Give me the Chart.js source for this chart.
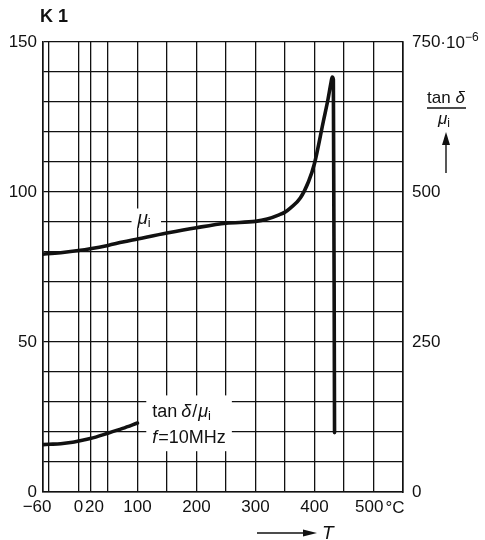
<!DOCTYPE html>
<html>
<head>
<meta charset="utf-8">
<script src="https://cdn.jsdelivr.net/npm/chart.js@4"></script>
<style>
  html, body { margin: 0; padding: 0; background: #fff; }
  #wrap { width: 485px; height: 540px; }
</style>
</head>
<body>
<div id="wrap"><canvas id="c" width="485" height="540"></canvas></div>
<script>
/* ── Data ────────────────────────────────────────── */
const xGrid    = [-60, -50, 0, 20, 50, 100, 150, 200, 250, 300, 350, 400, 450, 500, 550];
const xLabeled = [-60, 0, 20, 100, 200, 300, 400, 500];

// initial permeability mu_i vs temperature (left axis)
const muT   = [-60, -40, -20, 0, 20, 50, 75, 100, 150, 200, 250, 300, 320, 340, 350, 360, 376, 390, 400, 415, 423, 428, 430, 432, 434];
const muVal = [79.3, 79.6, 80, 80.5, 81.1, 82.2, 83.3, 84.3, 86.3, 88.1, 89.6, 90.2, 91, 92.4, 93.3, 94.8, 98, 103.5, 109.5, 123.5, 131, 136.5, 138.3, 137.5, 19.8];

// loss factor tan(delta)/mu_i in 1e-6 (right axis)
const tanT   = [-60, -50, -30, -10, 0, 20, 50, 75, 100];
const tanVal = [79, 79.5, 80.5, 83, 85, 89, 98, 106, 115];

const FONT = "'Liberation Sans', Arial, sans-serif";
const INK = "#111";

function pts(xs, ys) { return xs.map((x, i) => ({ x: x, y: ys[i] })); }

/* ── Text pieces helper ──────────────────────────── */
function drawRun(ctx, x, y, parts, size) {
  let cx = x;
  parts.forEach(p => {
    const s = p.size || size;
    ctx.font = (p.italic ? "italic " : "") + s + "px " + FONT;
    ctx.fillText(p.t, cx, y + (p.dy || 0));
    cx += ctx.measureText(p.t).width + (p.gap || 0);
  });
  return cx;
}

// nudges the x labels the way the sheet has them set
function xLabel(v) {
  if (!xLabeled.includes(v)) return "";
  if (v < 0) return "\u2212" + Math.abs(v) + "\u2002\u2009";
  if (v === 20) return "\u2002" + v;
  if (v === 500) return v + "\u2002";
  return String(v);
}

/* ── Annotation plugin ───────────────────────────── */
const annotations = {
  id: "annotations",
  beforeDatasetsDraw(chart) {
    const { ctx, scales: { x, y } } = chart;
    ctx.save();
    ctx.fillStyle = "#fff";
    // white patches behind curve labels
    ctx.fillRect(x.getPixelForValue(90), y.getPixelForValue(94.5),
                 x.getPixelForValue(140) - x.getPixelForValue(90),
                 y.getPixelForValue(88) - y.getPixelForValue(94.5));
    ctx.fillRect(x.getPixelForValue(115), y.getPixelForValue(32.2),
                 x.getPixelForValue(260) - x.getPixelForValue(115),
                 y.getPixelForValue(13.6) - y.getPixelForValue(32.2));
    ctx.restore();
  },
  afterDraw(chart) {
    const { ctx, chartArea: a, scales: { x, y } } = chart;
    ctx.save();
    ctx.fillStyle = INK;
    ctx.strokeStyle = INK;
    ctx.textBaseline = "alphabetic";
    ctx.textAlign = "left";

    // mu_i label
    drawRun(ctx, x.getPixelForValue(100), y.getPixelForValue(89.5),
      [{ t: "\u03bc", italic: true }, { t: "i", dy: 3, size: 13 }], 19);

    // tan d / mu_i, f = 10 MHz
    const lx = x.getPixelForValue(125);
    drawRun(ctx, lx, y.getPixelForValue(24.9),
      [{ t: "tan", gap: 4 }, { t: "\u03b4", italic: true, gap: 1 }, { t: "/", gap: 1 }, { t: "\u03bc", italic: true }, { t: "i", dy: 3, size: 13 }], 18);
    drawRun(ctx, lx, y.getPixelForValue(16.2),
      [{ t: "f", italic: true, gap: 1 }, { t: "=10MHz" }], 18);

    // K 1
    ctx.font = "bold 18px " + FONT;
    ctx.fillText("K 1", 40, 22);

    // right-axis unit "·10^-6" after the 750 label
    ctx.font = "17px " + FONT;
    const w750 = ctx.measureText("750").width;
    const ux = a.right + 9 + w750;
    const uy = y.getPixelForValue(150) + 6;
    drawRun(ctx, ux, uy, [{ t: "\u00b710" }, { t: "\u22126", dy: -7, size: 12 }], 17);

    // right-axis title: tan d over mu_i with arrow
    const tx = 446;
    ctx.font = "17px " + FONT;
    const wTan = ctx.measureText("tan ").width;
    ctx.font = "italic 17px " + FONT;
    const wD = ctx.measureText("\u03b4").width;
    drawRun(ctx, tx - (wTan + wD) / 2, 103, [{ t: "tan " }, { t: "\u03b4", italic: true }], 17);
    ctx.lineWidth = 1.4;
    ctx.beginPath(); ctx.moveTo(427, 108); ctx.lineTo(466, 108); ctx.stroke();
    drawRun(ctx, tx - 8, 124, [{ t: "\u03bc", italic: true }, { t: "i", dy: 3, size: 12 }], 17);
    ctx.beginPath(); ctx.moveTo(tx, 173); ctx.lineTo(tx, 140); ctx.stroke();
    ctx.beginPath(); ctx.moveTo(tx, 132); ctx.lineTo(tx - 4, 145); ctx.lineTo(tx + 4, 145); ctx.closePath(); ctx.fill();

    // °C after 500 on the x axis
    ctx.font = "17px " + FONT;
    ctx.fillText("\u00b0C", x.getPixelForValue(500) + 12, a.bottom + 21);

    // T arrow
    ctx.beginPath(); ctx.moveTo(257, 533); ctx.lineTo(306, 533); ctx.stroke();
    ctx.beginPath(); ctx.moveTo(317, 533); ctx.lineTo(303, 529.5); ctx.lineTo(303, 536.5); ctx.closePath(); ctx.fill();
    ctx.font = "italic 19px " + FONT;
    ctx.fillText("T", 322, 539);
    ctx.restore();
  }
};

const gridStyle = { color: INK, lineWidth: 1.3, drawTicks: false };
const borderStyle = { display: true, color: INK, width: 1.6 };
const tickFont = { family: FONT, size: 17 };

new Chart(document.getElementById("c"), {
  type: "line",
  data: {
    datasets: [
      {
        label: "\u03bci",
        data: pts(muT, muVal),
        yAxisID: "y",
        borderColor: INK,
        borderWidth: 3.6,
        pointRadius: 0,
        cubicInterpolationMode: "monotone",
        borderJoinStyle: "round",
        borderCapStyle: "round",
        fill: false
      },
      {
        label: "tan\u03b4/\u03bci",
        data: pts(tanT, tanVal),
        yAxisID: "yR",
        borderColor: INK,
        borderWidth: 3.6,
        pointRadius: 0,
        cubicInterpolationMode: "monotone",
        borderCapStyle: "round",
        fill: false
      }
    ]
  },
  options: {
    responsive: false,
    animation: false,
    events: [],
    layout: { padding: { top: 42, left: 0, right: 0, bottom: 0 } },
    plugins: { legend: { display: false }, tooltip: { enabled: false } },
    scales: {
      x: {
        type: "linear",
        min: -60, max: 550,
        afterBuildTicks: s => { s.ticks = xGrid.map(v => ({ value: v })); },
        afterFit: s => { s.height = 48; },
        ticks: {
          color: INK, font: tickFont, padding: 5, maxRotation: 0, autoSkip: false,
          callback: v => xLabel(v)
        },
        grid: gridStyle,
        border: borderStyle
      },
      y: {
        position: "left",
        min: 0, max: 150,
        afterFit: s => { s.width = 43; },
        ticks: {
          stepSize: 10, color: INK, font: tickFont, padding: 6,
          callback: v => v % 50 === 0 ? String(v) : ""
        },
        grid: gridStyle,
        border: borderStyle
      },
      yR: {
        position: "right",
        min: 0, max: 750,
        afterFit: s => { s.width = 82; },
        ticks: {
          stepSize: 50, color: INK, font: tickFont, padding: 9,
          callback: v => v % 250 === 0 ? String(v) : ""
        },
        grid: { display: false, drawTicks: false },
        border: borderStyle
      }
    }
  },
  plugins: [annotations]
});
</script>
</body>
</html>
